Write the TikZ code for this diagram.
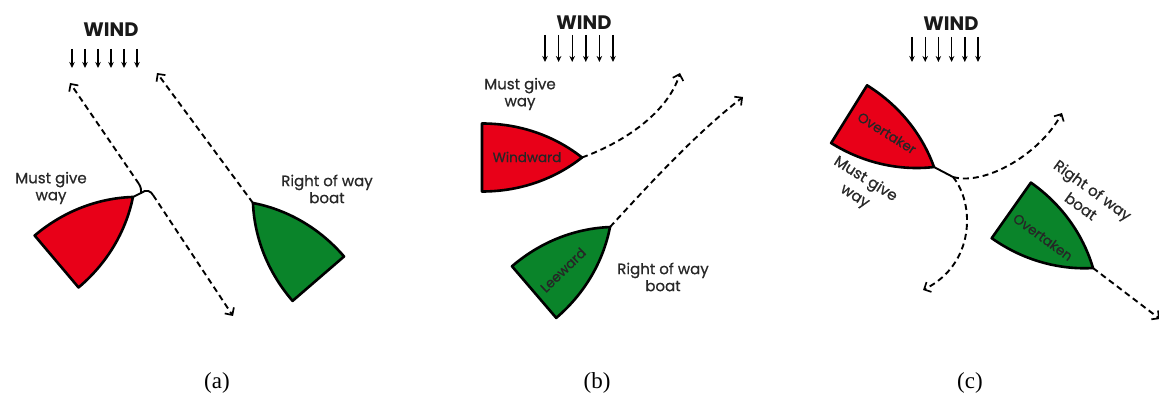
\documentclass[tikz,border=0pt]{standalone}
\usepackage{fontspec}
\setmainfont{Poppins}
\newfontfamily\popmed{Poppins}[FakeBold=0.7]
\newfontfamily\capfont{Liberation Serif}
\usetikzlibrary{arrows.meta}
\definecolor{boatred}{RGB}{232,0,24}
\definecolor{boatgreen}{RGB}{10,132,42}
\definecolor{labelgrey}{RGB}{40,40,40}
\tikzset{
  pics/boat/.style={code={
    \path[pic actions] (0,34) .. controls (42,34) and (76,19) .. (100,0)
      .. controls (76,-19) and (42,-34) .. (0,-34) -- cycle;
    \coordinate (-bow) at (100,0);
  }},
  boatline/.style={draw=black, line width=2.6pt, line join=round},
  dasharrow/.style={line width=1.9pt, dash pattern=on 6pt off 4pt,
    -{Straight Barb[length=5.5pt,width=11pt,line width=1.7pt]}},
  hookline/.style={line width=1.9pt},
  windarrow/.style={line width=1.4pt, -{Stealth[length=6pt,width=5.5pt]}},
  windlabel/.style={font=\bfseries\fontsize{19.5}{19.5}\selectfont, text=black!90},
  sidelabel/.style={font=\popmed\fontsize{15}{17}\selectfont, text=labelgrey, align=center, inner sep=0pt},
  rotlabel/.style={sidelabel, font=\popmed\fontsize{15}{20}\selectfont},
  boatlabel/.style={font=\popmed\fontsize{13.5}{13.5}\selectfont, text=black!85, inner sep=0pt},
  caption/.style={font=\capfont\fontsize{23}{23}\selectfont}
}
\begin{document}
\begin{tikzpicture}[x=1pt,y=1pt]
\useasboundingbox (0,0) rectangle (1159,404);

% ---------------- (a) ----------------
\node[windlabel] (winda) at (111,374) {WIND};
\foreach \i in {0,...,5} \draw[windarrow] (72+13*\i,355) -- ++(0,-19);
\pic[boatline, fill=boatred, rotate=40.2] (ra) at (56.6,142.5) {boat};
\pic[boatline, fill=boatgreen, rotate=130.8] (ga) at (318.3,125.3) {boat};
\coordinate (ja) at (141,211);
\coordinate (ua) at (70,321);
\coordinate (da) at (233,88);
\coordinate (gatip) at (157,331);
\draw[hookline] (ra-bow) -- (ja) .. controls (141,216) .. (139,220) coordinate (ja1);
\draw[hookline] (ja) .. controls (146,215) and (151,213) .. (153,209) coordinate (ja2);
\draw[dasharrow] (ja1) -- (ua);
\draw[dasharrow] (ja2) -- (da);
\draw[dasharrow] (ga-bow) -- (gatip);
\node[sidelabel] (mga) at (51,216) {Must give\\way};
\node[sidelabel] (rwa) at (327,215) {Right of way\\boat};
\node[caption] (capa) at (217,21) {(a)};

% ---------------- (b) ----------------
\node[windlabel] (windb) at (584,381) {WIND};
\foreach \i in {0,...,5} \draw[windarrow] (545+13.6*\i,369) -- ++(0,-27);
\pic[boatline, fill=boatred, rotate=0] (rb) at (482,246.5) {boat};
\pic[boatline, fill=boatgreen, rotate=40.6] (gb) at (534.1,111.9) {boat};
\node[boatlabel] (windward) at (527,247) {Windward};
\node[boatlabel, rotate=44] (leeward) at (563,134) {Leeward};
\coordinate (rbtip) at (680,331);
\coordinate (gbtip) at (743,307);
\draw[dasharrow] (rb-bow) .. controls (625,262) and (668,292) .. (rbtip);
\draw[dasharrow] (gb-bow) .. controls (645,215) and (695,270) .. (gbtip);
\node[sidelabel] (mgb) at (520,310) {Must give\\way};
\node[sidelabel] (rwb) at (663,127) {Right of way\\boat};
\node[caption] (capb) at (597,21) {(b)};

% ---------------- (c) ----------------
\node[windlabel] (windc) at (951,380) {WIND};
\foreach \i in {0,...,5} \draw[windarrow] (912+13.2*\i,367) -- ++(0,-25);
\pic[boatline, fill=boatred, rotate=-31.9] (rc) at (849.1,289.8) {boat};
\pic[boatline, fill=boatgreen, rotate=-35.2] (gc) at (1011.3,193.6) {boat};
\node[boatlabel, rotate=-32] (overtaker) at (887,271) {Overtaker};
\node[boatlabel, rotate=-36] (overtaken) at (1043,167) {Overtaken};
\coordinate (jc) at (953,227);
\coordinate (rctipr) at (1062,291);
\coordinate (rctipd) at (923,114);
\coordinate (gctip) at (1160,85);
\draw[hookline] (rc-bow) -- (jc);
\draw[dasharrow] (jc) .. controls (985,218) and (1040,250) .. (rctipr);
\draw[dasharrow] (jc) .. controls (975,200) and (975,140) .. (rctipd);
\draw[dasharrow] (gc-bow) -- (gctip);
\node[rotlabel, rotate=-32] (mgc) at (860,216) {Must give\\way};
\node[rotlabel, rotate=-36] (rwc) at (1087,206) {Right of way\\boat};
\node[caption] (capc) at (970,21) {(c)};
\end{tikzpicture}
\end{document}
